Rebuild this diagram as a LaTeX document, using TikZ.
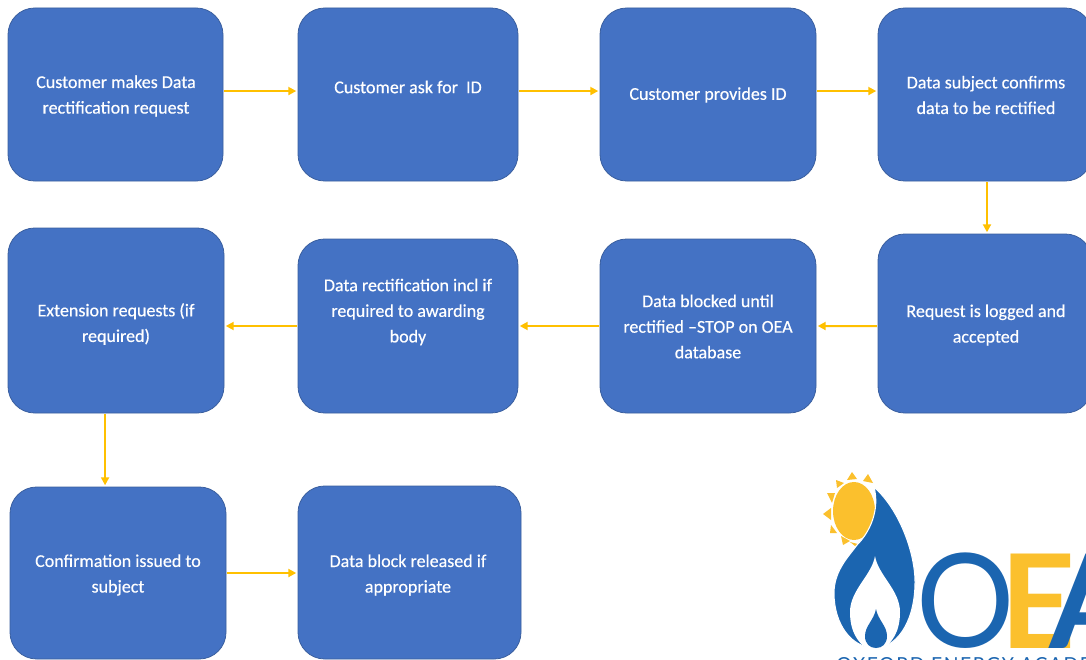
\documentclass[tikz,border=0pt]{standalone}
\usepackage{fontspec}
\setmainfont[FakeBold=0.35]{Carlito}
\newfontfamily\logofont{Lato}
\usetikzlibrary{arrows.meta}
\definecolor{boxblue}{HTML}{4472C4}
\definecolor{boxedge}{HTML}{3A5F9F}
\definecolor{arrowgold}{HTML}{FFC000}
\definecolor{logoblue}{HTML}{1B65B0}
\definecolor{logogold}{HTML}{FBC02D}
\tikzset{
  stepbox/.style={draw=boxedge,line width=0.6pt,fill=boxblue,rounded corners=20pt,inner sep=0pt},
  steptext/.style={text=white,align=center,font=\fontsize{13.5}{19.2}\selectfont,inner sep=0pt},
  flow/.style={draw=arrowgold,line width=1.5pt,-{Triangle[length=6pt,width=6pt]},shorten <=0.5pt,shorten >=1pt},
  logoletter/.style={inner sep=0pt,anchor=base west},
}
\newcommand{\stepnode}[5]{% name, x0,y0,x1,y1
  \pgfmathsetmacro{\bw}{(#4-#2)*0.75}\pgfmathsetmacro{\bh}{(#5-#3)*0.75}
  \node[stepbox,minimum width=\bw pt,minimum height=\bh pt] (#1) at ({(#2+#4)/2},{(#3+#5)/2}) {};
}
\begin{document}
\begin{tikzpicture}[x=0.75pt,y=-0.75pt]
\clip (0,0) rectangle (1086,660);
\fill[white] (0,0) rectangle (1086,660);
\stepnode{a}{8}{8}{223}{181}
\stepnode{b}{298}{8}{518}{181}
\stepnode{c}{600}{8}{816}{181}
\stepnode{d}{878}{8}{1092}{181}
\stepnode{e}{878}{234}{1092}{413}
\stepnode{f}{600}{239}{816}{413}
\stepnode{g}{298}{239}{518}{413}
\stepnode{h}{8}{228}{224}{413}
\stepnode{i}{10}{487}{226}{659}
\stepnode{j}{298}{486}{521}{659}
\node[steptext] (ta) at (116,96) {Customer makes Data\\rectification request};
\node[steptext] (tb) at (408,87) {Customer ask for~~ID};
\node[steptext] (tc) at (708,95) {Customer provides ID};
\node[steptext] (td) at (986,95) {Data subject confirms\\data to be rectified};
\node[steptext] (te) at (986,325) {Request is logged and\\accepted};
\node[steptext] (tf) at (708,326.5) {Data blocked until\\rectified –STOP on OEA\\database};
\node[steptext] (tg) at (408,312) {Data rectification incl if\\required to awarding\\body};
\node[steptext] (th) at (116,324) {Extension requests (if\\required)};
\node[steptext] (ti) at (118,575) {Confirmation issued to\\subject};
\node[steptext] (tj) at (408,575) {Data block released if\\appropriate};
\draw[flow] ([yshift=2.6pt]a.east) -- ([yshift=2.6pt]b.west);
\draw[flow] ([yshift=2.6pt]b.east) -- ([yshift=2.6pt]c.west);
\draw[flow] ([yshift=2.6pt]c.east) -- ([yshift=2.6pt]d.west);
\draw[flow] ([xshift=1.5pt]d.south) -- ([xshift=1.5pt]d.south |- e.north);
\draw[flow] ([yshift=-1.9pt]e.west) -- (f.east);
\draw[flow] (f.west) -- (g.east);
\draw[flow] (g.west) -- (g.west -| h.east);
\draw[flow] ([xshift=-8.2pt]h.south) -- ([xshift=-8.2pt]h.south |- i.north);
\draw[flow] (i.east) -- (i.east -| j.west);
% logo
\fill[logogold] (854,511) ellipse [x radius=21, y radius=29];
\foreach \ax/\ay/\bx/\by/\cx/\cy in {
 847/480/852/472/857/479, 863/481/868/474/873/483, 837/488/836/480/844/483,
 832/503/827/493/835/493, 831/508/823/514/831/520, 831/525/830/533/837/533,
 841/536/843/545/850/541, 850/542/855/546/858/544}
  \fill[logogold] (\ax,\ay) -- (\bx,\by) -- (\cx,\cy) -- cycle;
\filldraw[fill=logoblue,draw=white,line width=0.8pt] (874,487) .. controls (900,510) and (916,555) .. (915,585)
  .. controls (914,625) and (895,648) .. (875,648)
  .. controls (852,648) and (834,625) .. (834,593)
  .. controls (834,570) and (850,555) .. (857,545)
  .. controls (870,532) and (880,510) .. (874,487) -- cycle;
\fill[white] (875,556) .. controls (878,575) and (900,590) .. (900,612)
  .. controls (900,632) and (892,642) .. (884,648) -- (866,648)
  .. controls (858,642) and (850,632) .. (850,612)
  .. controls (850,590) and (872,575) .. (875,556) -- cycle;
\fill[logoblue] (876,609) .. controls (878,620) and (887,626) .. (887,636)
  .. controls (887,644) and (882,648) .. (876,648)
  .. controls (870,648) and (865,644) .. (865,636)
  .. controls (865,626) and (874,620) .. (876,609) -- cycle;
\node[logoletter,text=logoblue,font=\logofont\fontsize{98}{98}\selectfont,xscale=0.94] (lo) at (916,647) {O};
\node[logoletter,text=logogold,font=\logofont\bfseries\fontsize{98}{98}\selectfont] (le) at (1000,648) {E};
\node[logoletter,text=logoblue,font=\logofont\bfseries\fontsize{98}{98}\selectfont] (la) at (1049,648) {A};
\node[logoletter,text=logoblue,font=\logofont\addfontfeature{LetterSpace=8}\fontsize{14.5}{14.5}\selectfont] (lt) at (836,671) {OXFORD ENERGY ACADEMY};
\end{tikzpicture}
\end{document}
